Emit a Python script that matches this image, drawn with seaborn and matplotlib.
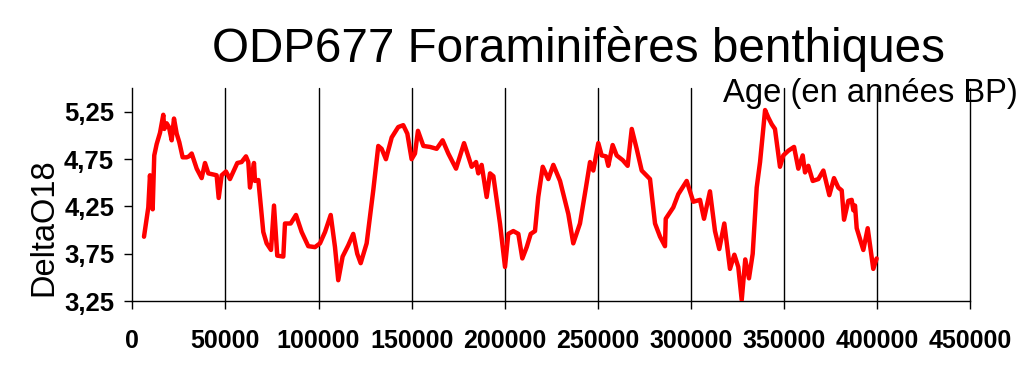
import numpy as np
import pandas as pd
import matplotlib
matplotlib.use("Agg")
import matplotlib.pyplot as plt
import seaborn as sns

# ---- data ----
age = [6300, 8600, 9500, 10950, 11800, 13100, 14900, 16650, 17200, 18450, 19700, 21150,
       22400, 23850, 25250, 27050, 29200, 30450, 31900, 34600, 37250, 39050, 40850, 45300,
       46400, 48000, 50300, 52450, 56400, 58700, 61050, 62300, 63200, 65350, 65900, 67700,
       70350, 72150, 74500, 76100, 77850, 81100, 82000, 85050, 87900, 90950, 94500, 98100,
       100800, 103500, 106550, 108850, 110600, 112950, 116000, 118650, 120800, 122650,
       125850, 129400, 132100, 133900, 136200, 139300, 142800, 145500, 147700, 150000,
       151800, 153400, 156300, 159850, 163450, 166650, 169700, 173850, 178150, 182250,
       184600, 185800, 187600, 190300, 192100, 193900, 197450, 200150, 201900, 204600,
       207300, 209450, 211800, 213950, 216250, 218000, 220400, 223400, 226100, 229700,
       234150, 236800, 240400, 243600, 245800, 247550, 250250, 252050, 254400, 255600,
       257950, 260100, 263350, 266000, 268200, 270850, 273550, 278000, 280700, 283400,
       286050, 286450, 290500, 293200, 297700, 301250, 304850, 307000, 310200, 312900,
       315200, 317900, 320950, 323300, 325400, 327250, 329150, 331150, 333150, 335300,
       337100, 339800, 341550, 343350, 345100, 347800, 349600, 352300, 355350, 357650,
       360000, 361250, 363000, 365400, 368400, 371100, 374300, 376800, 379100, 380950,
       382200, 384500, 386300, 387200, 388100, 389000, 392550, 394900, 397900, 399700]
delta_o18 = [3.93, 4.24, 4.58, 4.22, 4.79, 4.91, 5.03, 5.22, 5.07, 5.13, 5.09, 4.95,
             5.18, 5.02, 4.93, 4.77, 4.77, 4.78, 4.81, 4.65, 4.55, 4.71, 4.60, 4.58,
             4.34, 4.58, 4.62, 4.54, 4.71, 4.72, 4.78, 4.72, 4.45, 4.71, 4.52, 4.53,
             3.98, 3.86, 3.79, 4.26, 3.73, 3.72, 4.07, 4.07, 4.16, 3.98, 3.83, 3.82,
             3.86, 3.98, 4.16, 3.82, 3.47, 3.72, 3.84, 3.96, 3.75, 3.65,
             3.86, 4.42, 4.89, 4.86, 4.75, 4.98, 5.09, 5.11, 5.02, 4.75,
             4.81, 5.05, 4.89, 4.88, 4.86, 4.95, 4.81, 4.65, 4.92, 4.67,
             4.72, 4.60, 4.69, 4.35, 4.60, 4.57, 4.07, 3.61, 3.96, 3.99,
             3.96, 3.70, 3.82, 3.96, 3.99, 4.35, 4.67, 4.54, 4.69, 4.52,
             4.17, 3.86, 4.07, 4.45, 4.72, 4.63, 4.92, 4.79, 4.78, 4.68,
             4.90, 4.79, 4.74, 4.68, 5.07, 4.86, 4.63, 4.54, 4.07, 3.93,
             3.83, 4.12, 4.24, 4.38, 4.52, 4.30, 4.32, 4.12, 4.41, 3.99,
             3.80, 4.07, 3.59, 3.74, 3.61, 3.26, 3.69, 3.49, 3.75, 4.45,
             4.72, 5.27, 5.19, 5.12, 5.07, 4.67, 4.79, 4.84, 4.88, 4.65,
             4.79, 4.61, 4.68, 4.52, 4.54, 4.63, 4.37, 4.55, 4.45, 4.42,
             4.11, 4.31, 4.32, 4.21, 4.26, 4.02, 3.79, 4.02, 3.59, 3.70]

x_ticks = [0, 50000, 100000, 150000, 200000, 250000, 300000, 350000, 400000, 450000]
y_ticks = [3.25, 3.75, 4.25, 4.75, 5.25]
y_tick_labels = ["3,25", "3,75", "4,25", "4,75", "5,25"]

title_text = "ODP677 Foraminifères benthiques"
xlabel_text = "Age (en années BP)"
ylabel_text = "DeltaO18"

df = pd.DataFrame({"age": age, "d18O": delta_o18})

sns.set_style("ticks")
plt.rcParams["font.family"] = ["Liberation Sans", "DejaVu Sans"]
for k in ["text.color", "axes.labelcolor", "xtick.color", "ytick.color", "axes.edgecolor"]:
    plt.rcParams[k] = "black"

fig = plt.figure(figsize=(10.27, 3.67), dpi=100)
ax = fig.add_axes([0.1288, 0.1798, 0.816, 0.5796])

for xv in x_ticks[1:]:
    ax.axvline(xv, color="black", lw=1.0, zorder=1, clip_on=False)

sns.lineplot(data=df, x="age", y="d18O", color="#ff0000", lw=3.2, ax=ax, zorder=3)

ax.set_xlim(0, 450000)
ax.set_ylim(3.25, 5.5)
ax.set_xticks(x_ticks)
ax.set_xticklabels([str(v) for v in x_ticks], fontsize=18, fontweight="bold")
ax.set_yticks(y_ticks)
ax.set_yticklabels(y_tick_labels, fontsize=18.5, fontweight="bold")
ax.tick_params(axis="both", direction="out", length=6, width=1, color="black")
ax.tick_params(axis="x", pad=14)
ax.tick_params(axis="y", pad=7)

for s in ["top", "right"]:
    ax.spines[s].set_visible(False)
for s in ["left", "bottom"]:
    ax.spines[s].set_color("black")
    ax.spines[s].set_linewidth(1.0)

ax.set_xlabel("")
ax.set_ylabel("")

fig.text(578.5 / 1027, 1 - 62 / 367, title_text, fontsize=34.3, ha="center", va="baseline")
fig.text(723 / 1027, 1 - 101.7 / 367, xlabel_text, fontsize=23.6, ha="left", va="baseline")
fig.text(44 / 1027, 1 - 227.5 / 367, ylabel_text, fontsize=23.5, rotation=90,
         ha="center", va="center")

fig.savefig("out.png", dpi=100)
